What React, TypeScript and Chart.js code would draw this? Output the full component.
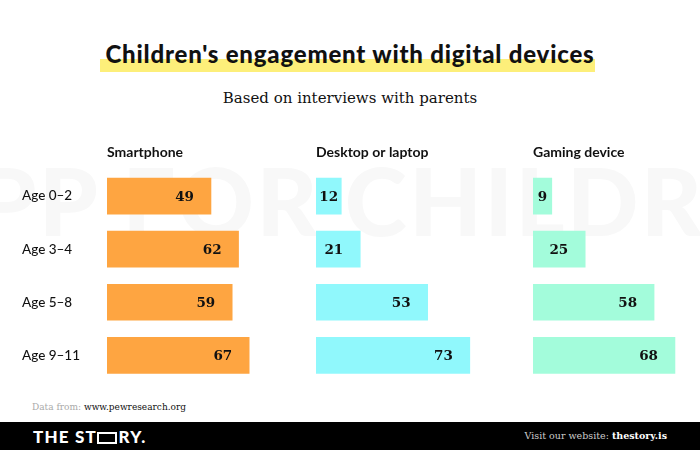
import React, { useEffect, useRef } from "react";
import { Chart, registerables } from "chart.js";

Chart.register(...registerables);

const ageGroups = ["Age 0–2", "Age 3–4", "Age 5–8", "Age 9–11"];
const panelTitles = ["Smartphone", "Desktop or laptop", "Gaming device"];
const smartphone = [49, 62, 59, 67];
const desktop = [12, 21, 53, 73];
const gaming = [9, 25, 58, 68];
const panelColors = ["#FEA541", "#90F8FC", "#A3FCDB"];

const valueLabels = {
  id: "valueLabels",
  afterDatasetsDraw(chart: any) {
    const ctx = chart.ctx;
    ctx.save();
    ctx.font = 'bold 13.5px "DejaVu Serif", serif';
    ctx.fillStyle = "#111";
    ctx.textBaseline = "middle";
    chart.data.datasets.forEach((ds: any, di: number) => {
      const meta = chart.getDatasetMeta(di);
      meta.data.forEach((bar: any, i: number) => {
        const text = String(ds.data[i]);
        const w = ctx.measureText(text).width;
        const right = bar.x - 17;
        if (right - w < bar.base + 4) {
          ctx.textAlign = "center";
          ctx.fillText(text, (bar.x + bar.base) / 2, bar.y + 1);
        } else {
          ctx.textAlign = "right";
          ctx.fillText(text, right, bar.y + 1);
        }
      });
    });
    ctx.restore();
  },
};

function xAxis(title: string, weight: number, max: number) {
  return {
    type: "linear",
    position: "top",
    stack: "panels",
    stackWeight: weight,
    min: 0,
    max,
    grid: { display: false },
    border: { display: false },
    ticks: { display: false },
    title: {
      display: true,
      text: title,
      align: "start",
      color: "#111",
      font: { family: "Lato", weight: "bold", size: 14 },
      padding: { top: 24, bottom: 0 },
    },
    afterFit(scale: any) {
      scale.height = 49.5;
    },
  };
}

export default function App() {
  const ref = useRef<HTMLCanvasElement>(null);
  useEffect(() => {
    if (!ref.current) return;
    const chart = new Chart(ref.current, {
      type: "bar",
      data: {
        labels: ageGroups,
        datasets: [
          { label: panelTitles[0], data: smartphone, xAxisID: "x1", backgroundColor: panelColors[0] },
          { label: panelTitles[1], data: desktop, xAxisID: "x2", backgroundColor: panelColors[1] },
          { label: panelTitles[2], data: gaming, xAxisID: "x3", backgroundColor: panelColors[2] },
        ],
      },
      options: {
        indexAxis: "y",
        responsive: false,
        animation: false,
        devicePixelRatio: 1,
        datasets: { bar: { barThickness: 36 } },
        layout: { padding: { left: 22, right: 0, top: 0, bottom: 8 } },
        plugins: { legend: { display: false }, tooltip: { enabled: false }, title: { display: false } },
        scales: {
          y: {
            type: "category",
            stacked: true,
            grid: { display: false },
            border: { display: false },
            ticks: {
              crossAlign: "far",
              padding: 0,
              color: "#111",
              font: { family: "Lato", size: 13.5, weight: "500" },
            },
            afterFit(scale: any) {
              scale.width = 85;
            },
          },
          // top-positioned stacked axes are laid out in reverse declaration order
          x3: xAxis(panelTitles[2], 167, 80),
          x2: xAxis(panelTitles[1], 217, 103),
          x1: xAxis(panelTitles[0], 209, 98.5),
        } as any,
      },
      plugins: [valueLabels],
    } as any);
    return () => chart.destroy();
  }, []);

  return (
    <div
      style={{
        position: "fixed",
        left: 0,
        top: 0,
        width: 700,
        height: 450,
        background: "#fff",
        overflow: "hidden",
        fontFamily: "Lato, sans-serif",
      }}
    >
      <div
        style={{
          position: "absolute",
          top: 153,
          left: -91,
          fontFamily: "Lato",
          fontWeight: 900,
          fontSize: 94,
          lineHeight: "94px",
          letterSpacing: 2.5,
          color: "#f8f8f8",
          whiteSpace: "nowrap",
        }}
      >
        APP FOR CHILDREN
      </div>
      <div style={{ position: "absolute", left: 100, top: 59, width: 495, height: 13, background: "#FDEF7A" }} />
      <div
        style={{
          position: "absolute",
          top: 38.5,
          left: 0,
          width: 700,
          textAlign: "center",
          fontFamily: "Lato",
          fontWeight: 900,
          fontSize: 24,
          lineHeight: "30px",
          letterSpacing: 0.8,
          color: "#111",
        }}
      >
        Children's engagement with digital devices
      </div>
      <div
        style={{
          position: "absolute",
          top: 88,
          left: 0,
          width: 700,
          textAlign: "center",
          fontFamily: '"DejaVu Serif", serif',
          fontSize: 15,
          lineHeight: "20px",
          color: "#111",
        }}
      >
        Based on interviews with parents
      </div>
      <canvas
        ref={ref}
        width={700}
        height={270}
        style={{ position: "absolute", left: 0, top: 120, width: 700, height: 270 }}
      />
      <div
        style={{
          position: "absolute",
          left: 32,
          top: 400,
          fontFamily: '"DejaVu Serif", serif',
          fontSize: 9,
          lineHeight: "14px",
          whiteSpace: "nowrap",
        }}
      >
        <span style={{ color: "#aaa" }}>Data from:</span>{" "}
        <span style={{ color: "#111" }}>www.pewresearch.org</span>
      </div>
      <div style={{ position: "absolute", left: 0, top: 422, width: 700, height: 28, background: "#000" }}>
        <div
          style={{
            position: "absolute",
            left: 33,
            top: 5,
            fontFamily: "Lato",
            fontWeight: 900,
            fontSize: 17,
            lineHeight: "20px",
            letterSpacing: 1.2,
            color: "#fff",
            whiteSpace: "nowrap",
          }}
        >
          THE ST
          <span
            aria-label="O"
            style={{
              display: "inline-block",
              width: 16,
              height: 8,
              border: "2.5px solid #fff",
              marginRight: 1.5,
              verticalAlign: "-1px",
            }}
          />
          RY.
        </div>
        <div
          style={{
            position: "absolute",
            right: 33,
            top: 7,
            fontFamily: '"DejaVu Serif", serif',
            fontSize: 9.5,
            lineHeight: "14px",
            whiteSpace: "nowrap",
          }}
        >
          <span style={{ color: "#ccc" }}>Visit our website:</span>{" "}
          <span style={{ color: "#fff", fontWeight: "bold" }}>thestory.is</span>
        </div>
      </div>
    </div>
  );
}
